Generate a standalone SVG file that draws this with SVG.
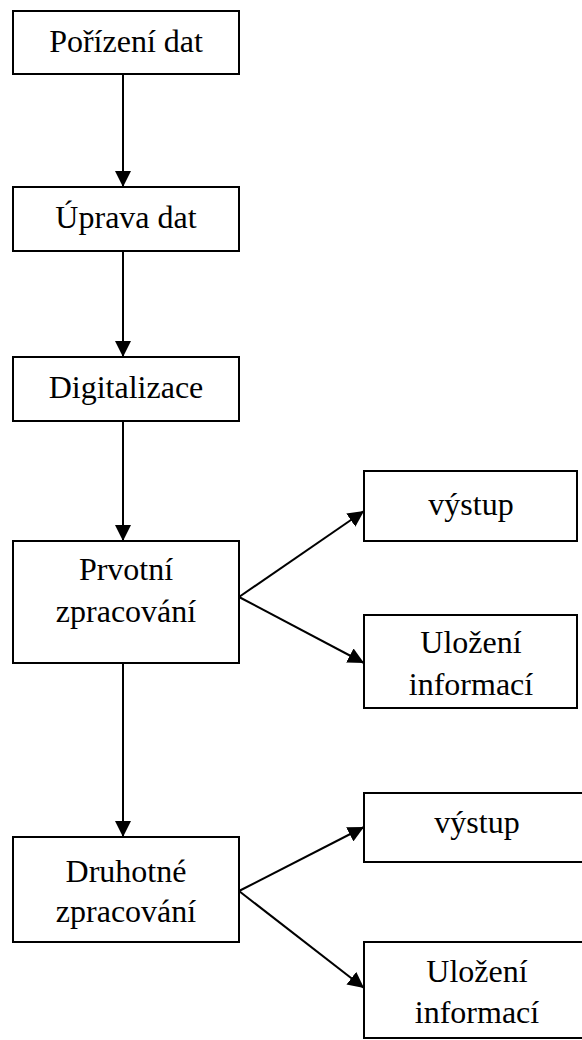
<svg xmlns="http://www.w3.org/2000/svg" width="582" height="1040" viewBox="0 0 582 1040">
<style>
.box{fill:#fff;stroke:#000;stroke-width:2}
.t{font-family:"Liberation Serif","Times New Roman",serif;font-size:32px;fill:#000;text-anchor:middle}
.c{stroke:#000;stroke-width:2;fill:none;marker-end:url(#ah)}
</style>
<defs>
<marker id="ah" markerUnits="userSpaceOnUse" markerWidth="16" markerHeight="16" refX="16" refY="8" orient="auto" viewBox="0 0 16 16">
<path d="M0,0 L16,8 L0,16 z" fill="#000"/>
</marker>
</defs>
<rect width="582" height="1040" fill="#fff"/>
<g id="connectors">
<line class="c" x1="123" y1="74" x2="123" y2="187"/>
<line class="c" x1="123" y1="251" x2="123" y2="357"/>
<line class="c" x1="123" y1="421" x2="123" y2="541"/>
<line class="c" x1="123" y1="663" x2="123" y2="837"/>
<line class="c" x1="239" y1="597" x2="364" y2="511"/>
<line class="c" x1="239" y1="597" x2="364" y2="663"/>
<line class="c" x1="239" y1="891" x2="364" y2="827"/>
<line class="c" x1="239" y1="891" x2="364" y2="988"/>
</g>
<g id="n1"><rect class="box" x="13" y="11" width="226" height="63"/><text class="t" x="126" y="52">Pořízení dat</text></g>
<g id="n2"><rect class="box" x="13" y="187" width="226" height="64"/><text class="t" x="126" y="228">Úprava dat</text></g>
<g id="n3"><rect class="box" x="13" y="357" width="226" height="64"/><text class="t" x="126" y="398">Digitalizace</text></g>
<g id="n4"><rect class="box" x="13" y="541" width="226" height="122"/><text class="t" x="126" y="580">Prvotní</text><text class="t" x="126" y="622">zpracování</text></g>
<g id="n5"><rect class="box" x="364" y="471" width="213" height="70"/><text class="t" x="471" y="515">výstup</text></g>
<g id="n6"><rect class="box" x="364" y="615" width="213" height="93"/><text class="t" x="471" y="653">Uložení</text><text class="t" x="471" y="695">informací</text></g>
<g id="n7"><rect class="box" x="13" y="837" width="226" height="105"/><text class="t" x="126" y="882">Druhotné</text><text class="t" x="126" y="922">zpracování</text></g>
<g id="n8"><rect class="box" x="364" y="793" width="227" height="69"/><text class="t" x="477" y="833">výstup</text></g>
<g id="n9"><rect class="box" x="364" y="942" width="227" height="96"/><text class="t" x="477" y="982">Uložení</text><text class="t" x="477" y="1023">informací</text></g>
</svg>
